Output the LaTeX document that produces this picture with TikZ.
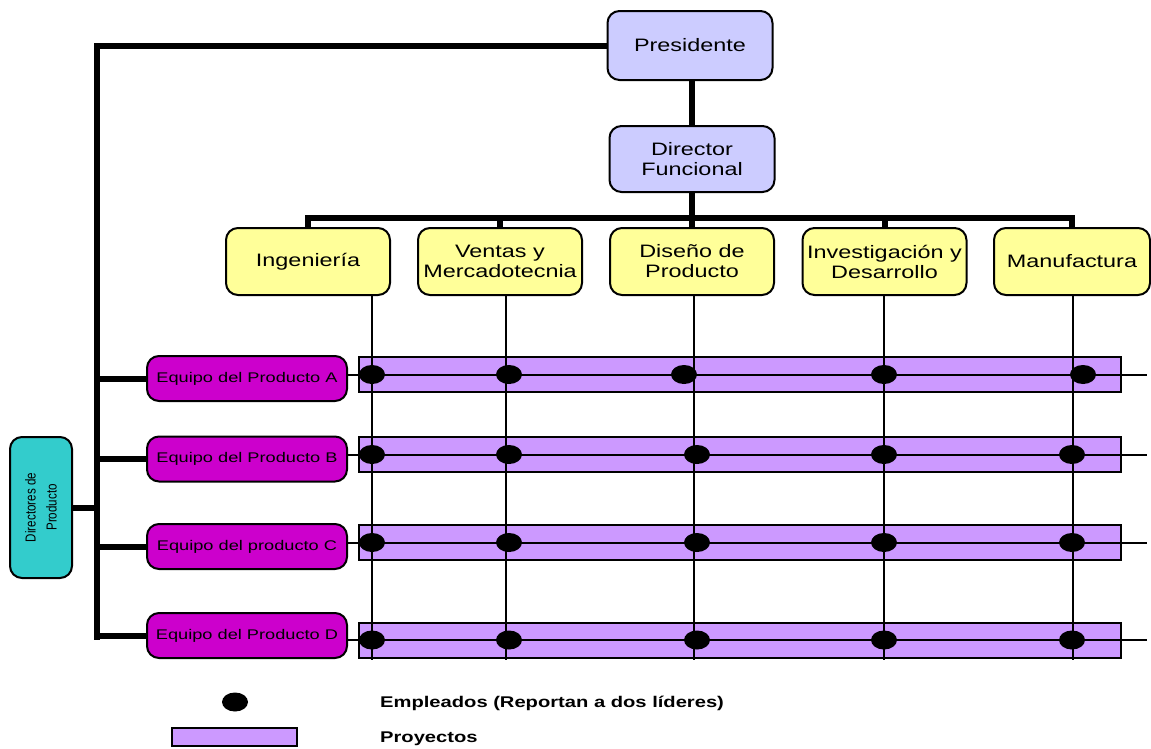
\documentclass[tikz,border=0pt]{standalone}
\usepackage{fontspec}
\setmainfont[FakeStretch=1.3]{Liberation Sans}
\newfontfamily\angosta[FakeStretch=0.8]{Liberation Sans}
\usetikzlibrary{calc,positioning,shapes.geometric}
\definecolor{lavanda}{HTML}{CCCCFF}
\definecolor{amarillo}{HTML}{FFFF99}
\definecolor{magenta}{HTML}{CC00CC}
\definecolor{lila}{HTML}{CC99FF}
\definecolor{turquesa}{HTML}{33CCCC}
\tikzset{
	caja/.style={draw, line width=2pt, rounded corners=12pt, align=center, inner sep=0pt},
	jefe/.style={caja, fill=lavanda, minimum width=165pt, font=\fontsize{18}{20}\selectfont},
	area/.style={caja, fill=amarillo, minimum width=164pt, minimum height=67pt, font=\fontsize{18}{20}\selectfont},
	equipo/.style={caja, fill=magenta, minimum width=200pt, minimum height=45pt, font=\fontsize{14}{16}\selectfont},
	proyecto/.style={draw, line width=2pt, fill=lila, inner sep=0pt},
	empleado/.style={ellipse, fill=black, minimum width=26pt, minimum height=19pt, inner sep=0pt},
	grueso/.style={line width=6pt},
	delgado/.style={line width=2pt},
	leyenda/.style={anchor=west, inner sep=0pt, font=\fontsize{15.5}{18}\selectfont\bfseries}
}

\begin{document}
\begin{tikzpicture}[x=1pt, y=-1pt]
			%%%%% START %%%%%
			\useasboundingbox (0,0) rectangle (1151,748);
			
			\node[jefe, minimum height=69pt] (presidente) at (690,45.5) {Presidente};
			\node[jefe, minimum height=66pt] (director) at (692,159) {Director\\Funcional};
			
			\node[area] (ing) at (308,261.5) {Ingeniería};
			\node[area] (ven) at (500,261.5) {Ventas y\\Mercadotecnia};
			\node[area] (dis) at (692,261.5) {Diseño de\\Producto};
			\node[area] (inv) at (884.5,261.5) {Investigación y\\Desarrollo};
			\node[area, minimum width=156pt] (man) at (1072,261.5) {Manufactura};
			
			\node[equipo] (eqA) at (247,378.5) {Equipo del Producto A};
			\node[equipo] (eqB) at (247,459) {Equipo del Producto B};
			\node[equipo] (eqC) at (247,546.5) {Equipo del producto C};
			\node[equipo] (eqD) at (247,635.5) {Equipo del Producto D};
			
			\node[caja, fill=turquesa, rotate=90, minimum width=141pt, minimum height=62pt,
				font=\angosta\fontsize{14.5}{21}\selectfont] (dirprod) at (41,507.5) {Directores de\\Producto};
			
			% lineas de mando
			\coordinate (lomo) at (97,640);
			\coordinate (barra) at (692,218);
			\draw[grueso] (presidente.west) -| (lomo);
			\draw[grueso] (director.north) -- (director.north |- presidente.south);
			\draw[grueso] (director.south) -- (barra);
			\foreach \a in {ing,ven,dis,inv,man}
				\draw[grueso] (\a.north) |- (barra);
			\foreach \e in {eqA,eqB,eqC,eqD}
				\draw[grueso] (\e.west) -- (\e.west -| lomo);
			\draw[grueso] (dirprod.south) -- (dirprod.south -| lomo);
			
			% proyectos
			\coordinate (fin) at (1147,0);
			\foreach \p/\e/\y in {pA/eqA/374.5, pB/eqB/454.5, pC/eqC/542.5, pD/eqD/640} {
				\node[proyecto, minimum width=762pt, minimum height=35pt] (\p) at (740,\y) {};
				\draw[delgado] (\p.west -| \e.east) -- (\p.east -| fin);
			}
			
			% lineas funcionales
			\foreach \a/\x in {ing/372,ven/506,dis/694,inv/884,man/1073} {
				\coordinate (v\a) at (\x,660);
				\draw[delgado] (\a.south -| v\a) -- (v\a);
			}
			
			% empleados
			\foreach \x [count=\i] in {372,509,684,884,1083}
				\node[empleado] (eA\i) at (\x,374.5) {};
			\foreach \p in {B,C,D}
				\foreach \x [count=\i] in {372,509,697,884,1072}
					\node[empleado] (e\p\i) at (\x,0 |- p\p) {};
			
			% leyenda
			\node[empleado] (leyE) at (235,702) {};
			\node[leyenda] (txtE) at (380,703.5) {Empleados (Reportan a dos líderes)};
			\node[proyecto, minimum width=125pt, minimum height=18pt] (leyP) at (234.5,737) {};
			\node[leyenda] (txtP) at (380,738.5) {Proyectos};
			
			%%%%% END %%%%%
\end{tikzpicture}
\end{document}
